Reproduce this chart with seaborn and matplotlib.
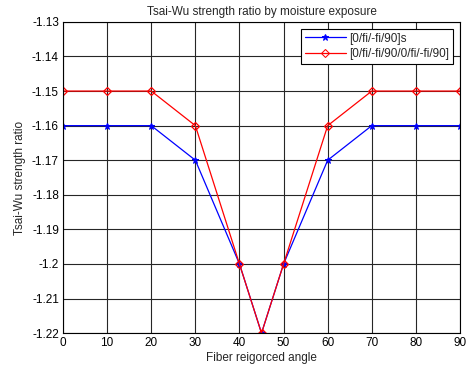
import matplotlib
matplotlib.use("Agg")
import matplotlib.pyplot as plt
import seaborn as sns
import pandas as pd

angles = [0, 10, 20, 30, 40, 45, 50, 60, 70, 80, 90]
ratio_4ply = [-1.16, -1.16, -1.16, -1.17, -1.20, -1.22, -1.20, -1.17, -1.16, -1.16, -1.16]
ratio_8ply = [-1.15, -1.15, -1.15, -1.16, -1.20, -1.22, -1.20, -1.16, -1.15, -1.15, -1.15]
labels = ["[0/fi/-fi/90]s", "[0/fi/-fi/90/0/fi/-fi/90]"]
yticks = [-1.22, -1.21, -1.20, -1.19, -1.18, -1.17, -1.16, -1.15, -1.14, -1.13]
ytick_labels = ["-1.22", "-1.21", "-1.2", "-1.19", "-1.18", "-1.17", "-1.16", "-1.15", "-1.14", "-1.13"]

sns.set_style("white")
plt.rcParams["font.family"] = ["Liberation Sans", "DejaVu Sans"]

df = pd.DataFrame({
    "angle": angles * 2,
    "ratio": ratio_4ply + ratio_8ply,
    "layup": [labels[0]] * len(angles) + [labels[1]] * len(angles),
})

fig = plt.figure(figsize=(4.67, 3.71), dpi=100)
ax = fig.add_axes([0.135, 0.102, 0.85, 0.839])

sns.lineplot(data=df, x="angle", y="ratio", hue="layup", style="layup",
             palette={labels[0]: "blue", labels[1]: "red"},
             markers={labels[0]: "*", labels[1]: "D"}, dashes=False,
             ax=ax, linewidth=0.9, markersize=5)
for line, mk, c, ms in zip(ax.lines[:2], ["*", "D"], ["blue", "red"], [5, 4.5]):
    line.set_marker(mk)
    line.set_markersize(ms)
    if mk == "D":
        line.set_markerfacecolor("none")
        line.set_markeredgecolor(c)
        line.set_markeredgewidth(0.9)
    else:
        line.set_markerfacecolor(c)
        line.set_markeredgecolor(c)

ax.set_xlim(0, 90)
ax.set_ylim(-1.22, -1.13)
ax.set_xticks(range(0, 91, 10))
ax.set_yticks(yticks)
ax.set_yticklabels(ytick_labels)
ax.grid(True, color="#262626", linewidth=0.8, linestyle="-")
ax.set_axisbelow(True)
for s in ax.spines.values():
    s.set_color("black")
    s.set_linewidth(0.8)
ax.tick_params(axis="both", labelsize=8.5, direction="in", length=3, colors="black", pad=3)

ax.set_title("Tsai-Wu strength ratio by moisture exposure", fontsize=8.5, pad=5)
ax.set_xlabel("Fiber reigorced angle", fontsize=8.5, labelpad=2)
ax.set_ylabel("Tsai-Wu strength ratio", fontsize=8.5, labelpad=4)

handles, lbls = ax.get_legend_handles_labels()
leg = ax.legend(handles, lbls, loc="upper right", fontsize=8.5, frameon=True,
                fancybox=False, framealpha=1, edgecolor="black",
                borderaxespad=0.6, handlelength=3.5, labelspacing=0.3,
                borderpad=0.3, handletextpad=0.3)
leg.get_frame().set_linewidth(0.8)
for h, mk, c in zip(leg.legend_handles, ["*", "D"], ["blue", "red"]):
    h.set_marker(mk)
    if mk == "D":
        h.set_markerfacecolor("none")
        h.set_markersize(4.5)
    else:
        h.set_markerfacecolor(c)
        h.set_markersize(5)
    h.set_markeredgecolor(c)

fig.savefig("out.png", dpi=100)
